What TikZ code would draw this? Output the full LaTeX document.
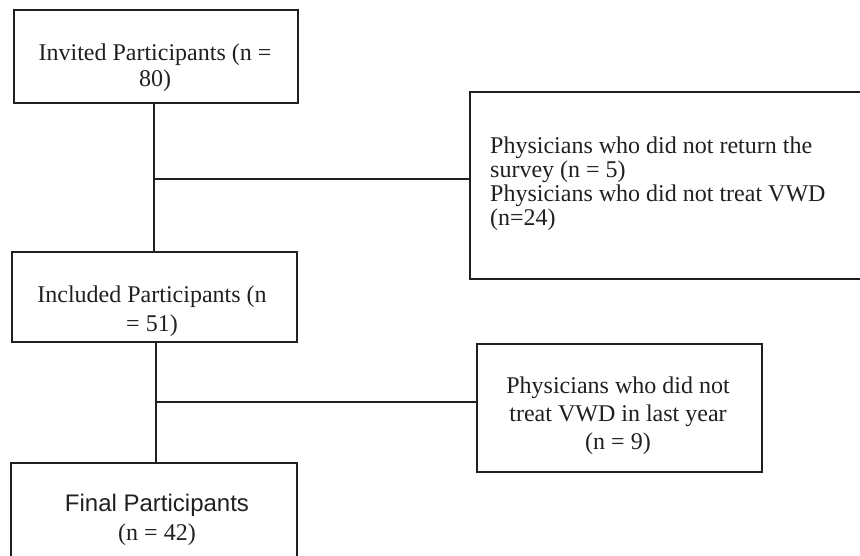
\documentclass[tikz,border=0pt]{standalone}
\usepackage{fontspec}
\setmainfont{Liberation Serif}
\newfontfamily\arialfont{Liberation Sans}
\definecolor{ink}{HTML}{231F20}
\begin{document}
\begin{tikzpicture}[x=1pt,y=-1pt,
  boxst/.style={draw=ink, line width=2pt, rectangle, inner sep=0pt, minimum width=#1},
  txt/.style={inner sep=0pt, text=ink},
  conn/.style={draw=ink, line width=2pt}]
\clip (0,0) rectangle (860,555);
\fill[white] (0,0) rectangle (860,555);
% boxes
\node[boxst=284pt, minimum height=93pt] (b1) at (156,56.5) {};
\node[boxst=410pt, minimum height=187pt] (b2) at (675,185.5) {};
\node[boxst=285pt, minimum height=90pt] (b3) at (154.5,297) {};
\node[boxst=285pt, minimum height=128pt] (b4) at (619.5,408) {};
\node[boxst=286pt, minimum height=117pt] (b5) at (154,521.5) {};
% texts
\node[txt, anchor=north, align=center, font=\fontsize{24}{26}\selectfont] (t1) at (155,43.5) {Invited Participants (n =\\80)};
\node[txt, anchor=north west, align=left, font=\fontsize{24}{24}\selectfont] (t2) at (490,136.5) {Physicians who did not return the\\survey (n = 5)\\Physicians who did not treat VWD\\(n=24)};
\node[txt, anchor=north, align=center, font=\fontsize{24}{29}\selectfont] (t3) at (152,285.5) {Included Participants (n\\= 51)};
\node[txt, anchor=north, align=center, font=\fontsize{24}{28}\selectfont] (t4) at (618,376.5) {Physicians who did not\\treat VWD in last year\\(n = 9)};
\node[txt, anchor=north, align=center, font=\fontsize{24}{29}\selectfont] (t5) at (157,493.8) {{\arialfont Final Participants}\\(n = 42)};
% connectors
\coordinate (v1) at (153.5,0);
\coordinate (v2) at (156,0);
\coordinate (j1) at (153.5,179);
\coordinate (j2) at (156,402);
\draw[conn] (b1.south -| v1) -- (b3.north -| v1);
\draw[conn] (j1) -- (j1 -| b2.west);
\draw[conn] (b3.south -| v2) -- (b5.north -| v2);
\draw[conn] (j2) -- (j2 -| b4.west);
\end{tikzpicture}
\end{document}
